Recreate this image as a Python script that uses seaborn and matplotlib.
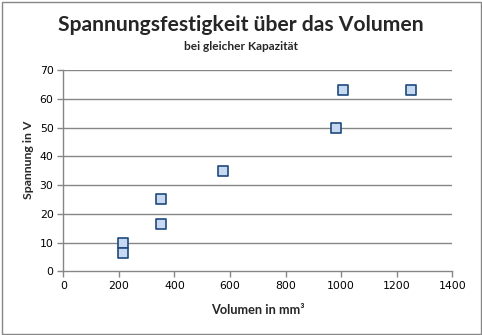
import matplotlib
matplotlib.use("Agg")
import matplotlib.pyplot as plt
import seaborn as sns
import pandas as pd
from matplotlib.patches import Rectangle

# Volume (mm³) and dielectric strength (V) of capacitors with equal capacitance
volumen = [215, 215, 350, 350, 575, 980, 1005, 1250]
spannung = [10, 6.3, 25, 16.3, 35, 50, 63, 63]

x_ticks = [0, 200, 400, 600, 800, 1000, 1200, 1400]
y_ticks = [0, 10, 20, 30, 40, 50, 60, 70]

df = pd.DataFrame({"Volumen": volumen, "Spannung": spannung})

sns.set_theme(style="white")
plt.rcParams["font.family"] = ["Lato", "DejaVu Sans"]

W, H = 482, 335
fig = plt.figure(figsize=(W / 100, H / 100), dpi=100)
fig.patch.set_facecolor("white")

# plot area in pixel coordinates
left, right, top, bottom = 63.3, 452.3, 70.0, 271.3
ax = fig.add_axes([left / W, 1 - bottom / H, (right - left) / W, (bottom - top) / H])

grid_col = "#868686"
sns.scatterplot(data=df, x="Volumen", y="Spannung", ax=ax, marker="s", s=42,
                color="#C6D9F1", edgecolor="#1F497D", linewidth=1.2, zorder=3,
                legend=False)

ax.set_xlim(0, 1400)
ax.set_ylim(0, 70)
ax.set_xticks(x_ticks)
ax.set_yticks(y_ticks)
ax.set_xticklabels([str(v) for v in x_ticks], family="DejaVu Sans", fontsize=7.8)
ax.set_yticklabels([str(v) for v in y_ticks], family="DejaVu Sans", fontsize=7.8)
ax.set_xlabel("")
ax.set_ylabel("")

for v in y_ticks[1:]:
    ax.axhline(v, color=grid_col, linewidth=1.0, zorder=1)

for side in ["top", "right"]:
    ax.spines[side].set_visible(False)
for side in ["left", "bottom"]:
    ax.spines[side].set_color(grid_col)
    ax.spines[side].set_linewidth(1.0)

ax.tick_params(axis="both", which="major", direction="out", length=4, width=1.0,
               color=grid_col, labelcolor="black", pad=3,
               bottom=True, left=True)

fig.text(241 / W, 1 - 25 / H, "Spannungsfestigkeit über das Volumen",
         ha="center", va="center", fontsize=15.2, fontweight="bold")
fig.text(240.5 / W, 1 - 46 / H, "bei gleicher Kapazität",
         ha="center", va="center", fontsize=8.6, fontweight="bold")
fig.text(258 / W, 1 - 310 / H, "Volumen in mm³",
         ha="center", va="center", fontsize=9.2, fontweight="bold")
fig.text(29 / W, 1 - 160 / H, "Spannung in V", rotation=90,
         ha="center", va="center", fontsize=8.8, fontweight="bold")

# outer chart border
fig.add_artist(Rectangle((1.5 / W, 1.5 / H), (W - 3) / W, (H - 3) / H,
                         transform=fig.transFigure, fill=False,
                         edgecolor="#868686", linewidth=1.0))

fig.savefig("out.png", dpi=100, facecolor="white")
